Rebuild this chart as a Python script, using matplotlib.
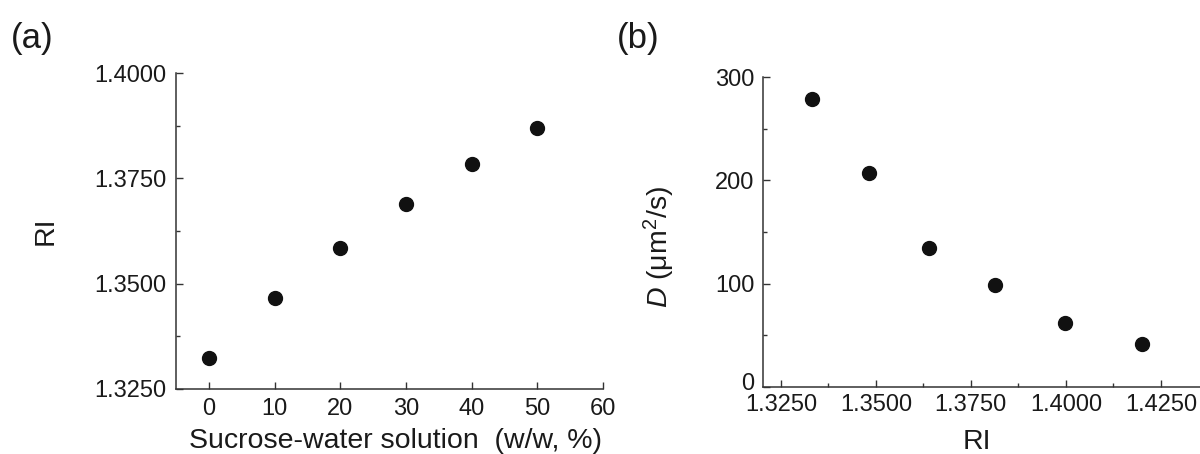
import matplotlib
matplotlib.use("Agg")
import matplotlib.pyplot as plt
import matplotlib.transforms as mtransforms
from matplotlib.ticker import MultipleLocator, FormatStrFormatter

plt.rcParams['font.family'] = ['Liberation Sans', 'DejaVu Sans']
plt.rcParams['mathtext.fontset'] = 'custom'
plt.rcParams['mathtext.rm'] = 'Liberation Sans'
plt.rcParams['mathtext.it'] = 'Liberation Sans:italic'

# Panel (a) data
sucrose_pct = [0, 10, 20, 30, 40, 50]
ri_a = [1.3324, 1.3465, 1.3584, 1.3690, 1.3785, 1.3870]

# Panel (b) data
ri_b = [1.3333, 1.3482, 1.3640, 1.3813, 1.3998, 1.4200]
diff_coef = [279, 207, 134, 99, 62, 41]

ink = '#1a1a1a'
tick_fs = 17
label_fs = 20.5

fig = plt.figure(figsize=(12, 4.54), dpi=100)

ax1 = fig.add_axes([0.1467, 0.1432, 0.5025 - 0.1467, 0.8392 - 0.1432])
ax2 = fig.add_axes([0.6358, 0.1483, 1.0 - 0.6358, 0.8297 - 0.1483])

for ax in (ax1, ax2):
    for s in ('top', 'right'):
        ax.spines[s].set_visible(False)
    for s in ('left', 'bottom'):
        ax.spines[s].set_linewidth(1.1)
        ax.spines[s].set_color('#333333')
    ax.tick_params(which='both', direction='in', colors='#333333',
                   labelcolor=ink, labelsize=tick_fs, width=1.0)
    ax.tick_params(which='major', length=5)
    ax.tick_params(which='minor', length=3)

# Panel (a)
ax1.plot(sucrose_pct, ri_a, 'o', color='#111111', markersize=10)
ax1.set_xlim(-5, 60)
ax1.set_ylim(1.325, 1.400)
ax1.xaxis.set_major_locator(MultipleLocator(10))
ax1.yaxis.set_major_locator(MultipleLocator(0.025))
ax1.yaxis.set_minor_locator(MultipleLocator(0.0125))
ax1.yaxis.set_major_formatter(FormatStrFormatter('%.4f'))
ax1.tick_params(axis='y', pad=7)
ax1.tick_params(axis='x', pad=6.5)
ax1.set_xlabel('Sucrose-water solution  (w/w, %)', fontsize=label_fs, color=ink)
ax1.set_ylabel('RI', fontsize=label_fs, color=ink)
ax1.xaxis.label.set_va('baseline')
ax1.xaxis.set_label_coords(0.513, -0.187)
ax1.yaxis.set_label_coords(-0.274, 0.5)

# Panel (b)
ax2.plot(ri_b, diff_coef, 'o', color='#111111', markersize=10)
ax2.set_xlim(1.3203, 1.4353)
ax2.set_ylim(0, 300)
ax2.xaxis.set_major_locator(MultipleLocator(0.025))
ax2.xaxis.set_minor_locator(MultipleLocator(0.0125))
ax2.xaxis.set_major_formatter(FormatStrFormatter('%.4f'))
ax2.yaxis.set_major_locator(MultipleLocator(100))
ax2.yaxis.set_minor_locator(MultipleLocator(50))
ax2.tick_params(axis='y', pad=6)
ax2.tick_params(axis='x', pad=5.5)
ax2.set_xlabel('RI', fontsize=label_fs, color=ink)
ax2.set_ylabel(r'$\mathit{D}$ (μm$^{2}$/s)', fontsize=label_fs, color=ink)
ax2.xaxis.label.set_va('baseline')
ax2.xaxis.set_label_coords(0.49, -0.200)
ax2.yaxis.set_label_coords(-0.197, 0.452)

# nudge the "0" tick label of panel (b) up slightly so it clears the x tick labels
fig.canvas.draw()
for lbl in ax2.get_yticklabels():
    if lbl.get_text() == '0':
        lbl.set_transform(lbl.get_transform() +
                          mtransforms.ScaledTranslation(0, 4 / 72, fig.dpi_scale_trans))

fig.text(11 / 1200, 1 - 22 / 454, '(a)', fontsize=25, color=ink, ha='left', va='top')
fig.text(617 / 1200, 1 - 22 / 454, '(b)', fontsize=25, color=ink, ha='left', va='top')

fig.savefig('out.png', dpi=100)
